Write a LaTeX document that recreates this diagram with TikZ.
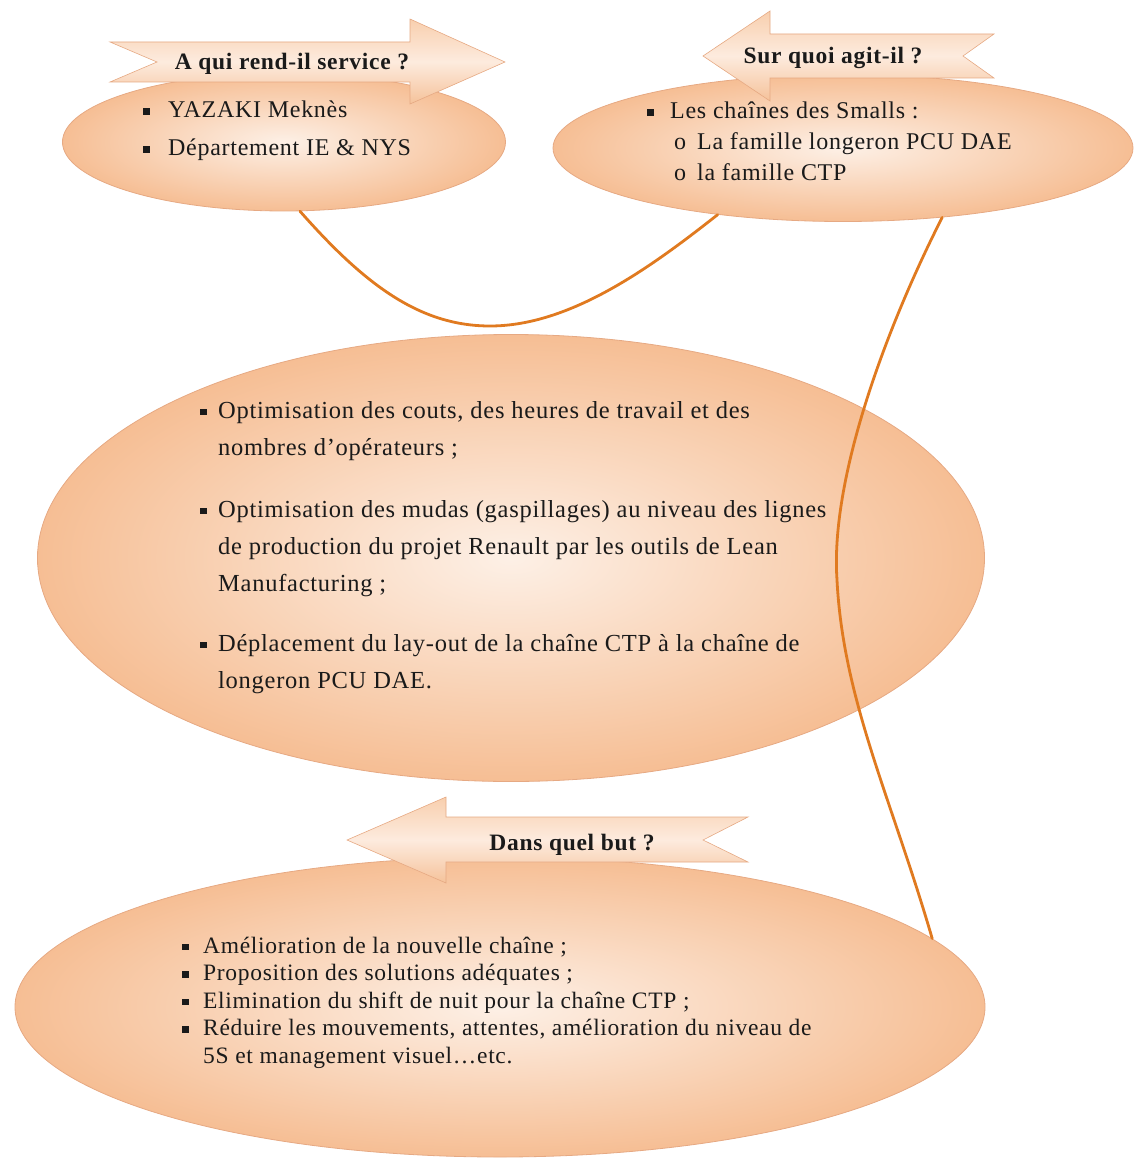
\documentclass[tikz,border=0pt]{standalone}
\usepackage{fontspec}
\setmainfont{Liberation Serif}[LetterSpace=3]
\usetikzlibrary{shapes.geometric}
\definecolor{peachin}{HTML}{FDF0E6}
\definecolor{peachout}{HTML}{F6BE94}
\definecolor{peachedge}{HTML}{E6A983}
\definecolor{arrtop}{HTML}{F8CFAE}
\definecolor{arrmid}{HTML}{FDEBDE}
\definecolor{arrbot}{HTML}{F5C29A}
\definecolor{linkorange}{HTML}{E07A20}
\definecolor{ink}{HTML}{1A1A1A}
\newcommand{\sqb}{\rule[3pt]{6.5pt}{6.5pt}}
\begin{document}
\begin{tikzpicture}[x=1pt,y=-1pt,
  blob/.style={ellipse, inner sep=0pt, shade, shading=radial, inner color=peachin, outer color=peachout, draw=peachedge, line width=0.8pt},
  arrowshape/.style={top color=arrtop, bottom color=arrbot, middle color=arrmid, draw=peachedge, line width=0.6pt},
  titletext/.style={font=\bfseries\fontsize{23.5}{28}\selectfont, text=ink, inner sep=0pt, anchor=base},
  listtext/.style={inner sep=0pt, anchor=base west, text=ink},
  link/.style={draw=linkorange, line width=2.8pt, line cap=round}]
\useasboundingbox (0,0) rectangle (1133,1169);

% ellipses
\node[blob, minimum width=443pt, minimum height=138pt] (e1) at (284,142) {};
\node[blob, minimum width=580pt, minimum height=147pt] (e2) at (843,148) {};
\node[blob, minimum width=947pt, minimum height=447pt] (e3) at (511,558) {};
\node[blob, minimum width=970pt, minimum height=300pt] (e4) at (500,1007) {};

% arrows
\path[arrowshape] (110,42) -- (410,42) -- (410,19) -- (505,62) -- (410,104) -- (410,82) -- (110,82) -- (157,62) -- cycle;
\path[arrowshape] (994,34) -- (770,34) -- (770,11) -- (703,56) -- (770,101) -- (770,78) -- (994,78) -- (963,56) -- cycle;
\path[arrowshape] (748,817) -- (446,817) -- (446,797) -- (347,840) -- (446,883) -- (446,862) -- (748,862) -- (703,840) -- cycle;

% titles
\node[titletext] (t1) at (292,70) {A qui rend-il service ?};
\node[titletext] (t2) at (833,64) {Sur quoi agit-il ?};
\node[titletext] (t3) at (572,850) {Dans quel but ?};

% lists
\node[listtext] (l1) at (143,118) {\parbox[t]{400pt}{\fontsize{24}{38}\selectfont
\makebox[25pt][l]{\sqb}YAZAKI Meknès\par
\makebox[25pt][l]{\sqb}Département IE \& NYS}};

\node[listtext] (l2) at (647,119) {\parbox[t]{480pt}{\fontsize{24}{31}\selectfont
\makebox[23pt][l]{\sqb}Les chaînes des Smalls :\par
\hspace*{27pt}\makebox[23pt][l]{o}La famille longeron PCU DAE\par
\hspace*{27pt}\makebox[23pt][l]{o}la famille CTP}};

\node[listtext] (l3) at (200,418) {\parbox[t]{750pt}{\fontsize{24.5}{37}\selectfont
\makebox[18pt][l]{\sqb}Optimisation des couts, des heures de travail et des\par
\hspace*{18pt}nombres d’opérateurs ;\par\vspace{25pt}
\makebox[18pt][l]{\sqb}Optimisation des mudas (gaspillages) au niveau des lignes\par
\hspace*{18pt}de production du projet Renault par les outils de Lean\par
\hspace*{18pt}Manufacturing ;\par\vspace{23pt}
\makebox[18pt][l]{\sqb}Déplacement du lay-out de la chaîne CTP à la chaîne de\par
\hspace*{18pt}longeron PCU DAE.}};

\node[listtext] (l4) at (182,953) {\parbox[t]{750pt}{\fontsize{23.5}{27.5}\selectfont
\makebox[21pt][l]{\sqb}Amélioration de la nouvelle chaîne ;\par
\makebox[21pt][l]{\sqb}Proposition des solutions adéquates ;\par
\makebox[21pt][l]{\sqb}Elimination du shift de nuit pour la chaîne CTP ;\par
\makebox[21pt][l]{\sqb}Réduire les mouvements, attentes, amélioration du niveau de\par
\hspace*{21pt}5S et management visuel…etc.}};

% connectors
\coordinate (m1) at (490,326);
\coordinate (m2) at (837,580);
\draw[link] (e1.-77) .. controls (365,285) and (420,326) .. (m1)
  .. controls (570,326) and (650,268) .. (e2.-152);
\draw[link] (e2.-35) .. controls (885,330) and (830,480) .. (m2)
  .. controls (843,700) and (892,800) .. (e4.9);
\end{tikzpicture}
\end{document}
